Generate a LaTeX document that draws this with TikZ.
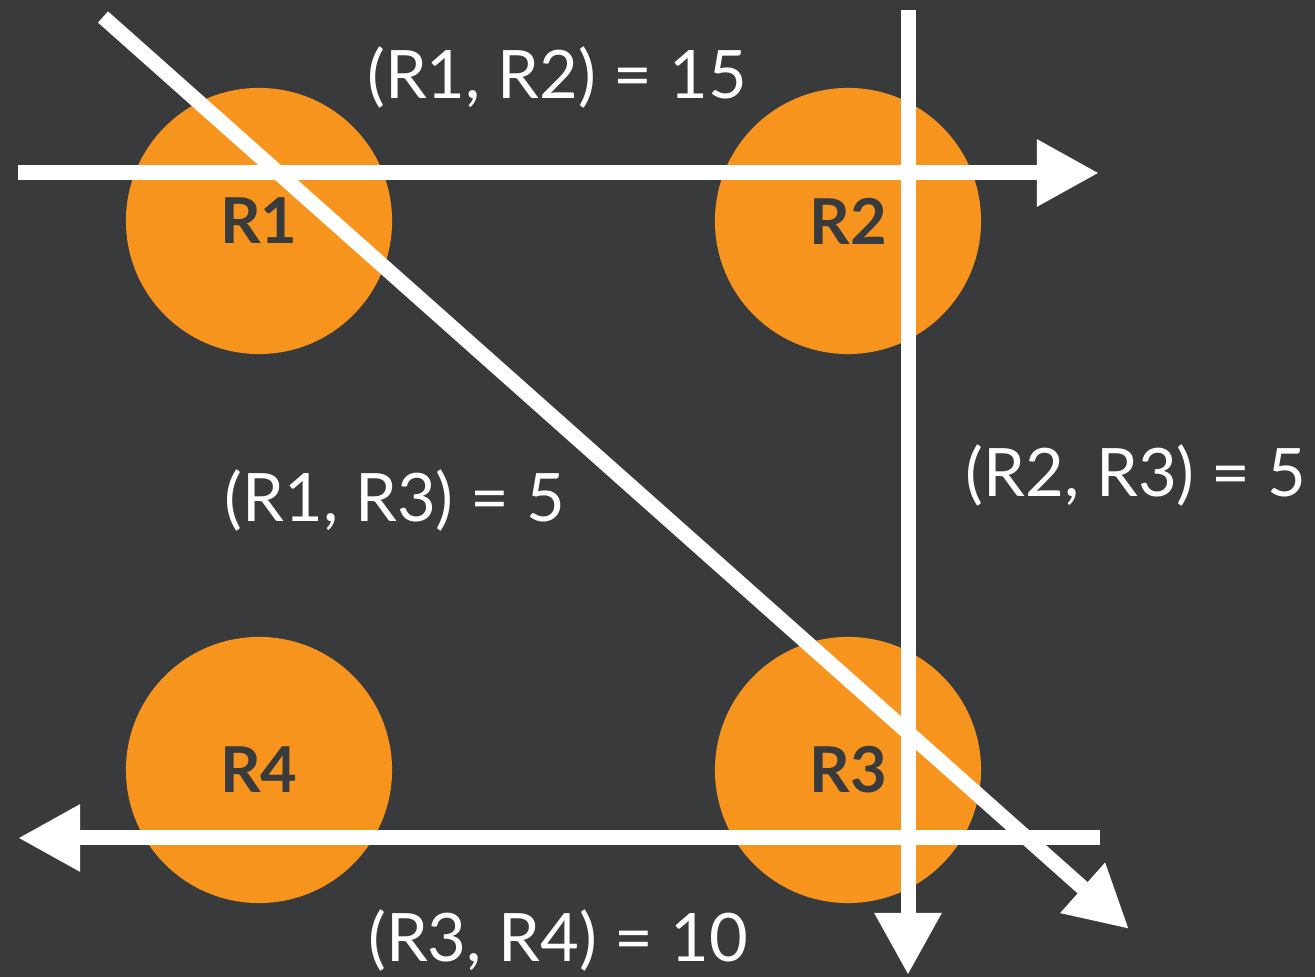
\documentclass[tikz,border=0pt]{standalone}
\usepackage{fontspec}
\setmainfont{Lato}
\usetikzlibrary{arrows.meta}
\definecolor{bgDark}{HTML}{393A3C}
\definecolor{rOrange}{HTML}{F7941D}

\tikzset{
  router/.style={circle, fill=rOrange, minimum size=2.66cm, inner sep=0pt,
    text=bgDark, font=\bfseries\fontsize{18}{20}\selectfont},
  link/.style={draw=white, line width=0.15cm,
    -{Triangle[length=0.62cm, width=0.63cm]}},
  cost/.style={text=white, font=\fontsize{19}{22}\selectfont}
}

\begin{document}
\begin{tikzpicture}[x=0.01cm, y=-0.01cm]
  \fill[bgDark] (0,0) rectangle (1315,977);
  \useasboundingbox (0,0) rectangle (1315,977);
  % routers
  \node[router] (r1) at (259,221) {R1};
  \node[router] (r2) at (848,221) {R2};
  \node[router] (r3) at (848,770) {R3};
  \node[router] (r4) at (259,770) {R4};
  % ends of the links
  \coordinate (h1s) at (18,173);   \coordinate (h1e) at (1099,173);
  \coordinate (h2s) at (1100,838); \coordinate (h2e) at (18,838);
  \coordinate (vs) at (908,10);    \coordinate (ve) at (908,975);
  \coordinate (ds) at (103,17);    \coordinate (de) at (1129,929);
  \draw[link] (h1s) -- (h1e);
  \draw[link] (h2s) -- (h2e);
  \draw[link] (vs) -- (ve);
  \draw[link] (ds) -- (de);
  % costs
  \node[cost] (c12) at (557,78) {(R1, R2) = 15};
  \node[cost] (c13) at (395,500) {(R1, R3) = 5};
  \node[cost] (c23) at (1136,475) {(R2, R3) = 5};
  \node[cost] (c34) at (558,940) {(R3, R4) = 10};
\end{tikzpicture}
\end{document}
